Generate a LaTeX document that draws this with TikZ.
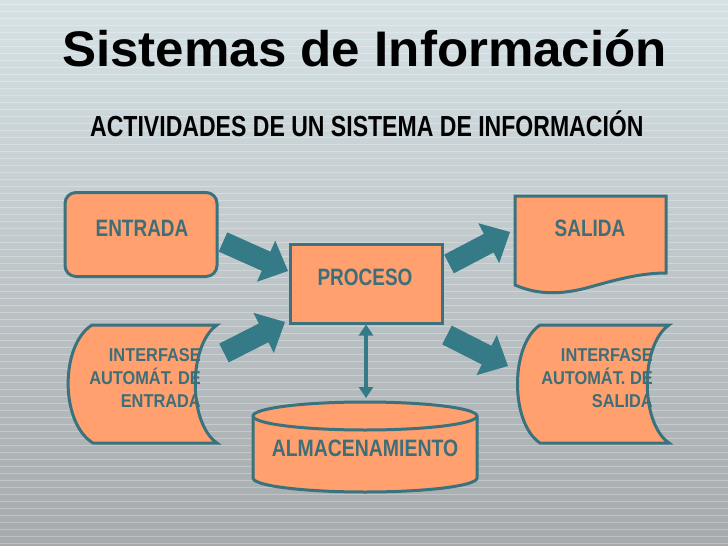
\documentclass[tikz,border=0pt]{standalone}
\usepackage{fontspec}
\setmainfont{Liberation Sans}
\usetikzlibrary{calc,arrows.meta}
\definecolor{boxfill}{RGB}{255,160,110}
\definecolor{boxline}{RGB}{58,115,125}
\definecolor{txt}{RGB}{62,110,120}
\definecolor{arr}{RGB}{52,122,135}
\definecolor{bgtop}{RGB}{214,226,230}
\definecolor{bgbot}{RGB}{166,170,172}
\newcommand\lblfont{\fontsize{23.7}{28}\selectfont\bfseries}
\newcommand\smfont{\fontsize{18.6}{22.5}\selectfont\bfseries}
\newcommand\barrow[2]{%
  \coordinate (bB) at ($(#2)!24pt!(#1)$);
  \fill[arr] ($(#1)!10.5pt!90:(#2)$) -- ($(bB)!10.5pt!90:(#2)$) -- ($(bB)!22.5pt!90:(#2)$)
    -- (#2) -- ($(bB)!22.5pt!-90:(#2)$) -- ($(bB)!10.5pt!-90:(#2)$) -- ($(#1)!10.5pt!-90:(#2)$) -- cycle;}
\begin{document}
\begin{tikzpicture}[x=1pt,y=-1pt,
  shp/.style={fill=boxfill,draw=boxline,line width=3pt},
  lbl/.style={inner sep=0pt,text=txt,font=\lblfont},
  sml/.style={inner sep=0pt,text=txt,font=\smfont,anchor=east}]
\useasboundingbox (0,0) rectangle (728,546);
\shade[top color=bgtop,bottom color=bgbot] (0,0) rectangle (728,546);
\foreach \y in {4,11,...,546} \draw[white,opacity=0.28,line width=1pt] (0,\y) -- (728,\y);

% titles
\node[anchor=base west,inner sep=0pt,font=\fontsize{50}{60}\selectfont\bfseries] (title) at (62,66) {\scalebox{1.022}[1]{Sistemas de Información}};
\node[anchor=base west,inner sep=0pt,font=\fontsize{29}{34}\selectfont\bfseries] (sub) at (90,136) {\scalebox{0.795}[1]{ACTIVIDADES DE UN SISTEMA DE INFORMACIÓN}};

% ENTRADA
\node[shp,rounded corners=11pt,minimum width=152pt,minimum height=84pt,inner sep=0pt] (ent) at (141,234.5) {};
\node[lbl] (entT) at (142,228) {\scalebox{0.8}[1]{ENTRADA}};

% PROCESO
\node[shp,minimum width=152pt,minimum height=79pt,inner sep=0pt] (proc) at (366,283.5) {};
\node[lbl] (procT) at (365,277) {\scalebox{0.8}[1]{PROCESO}};

% SALIDA (document)
\draw[shp] (515,196) -- (666,196) -- (666,273)
  .. controls (640,273) and (615,280) .. (590,287)
  .. controls (565,294) and (540,296) .. (515,285) -- cycle;
\node[lbl] (salT) at (590,228) {\scalebox{0.8}[1]{SALIDA}};

% INTERFASE entrada
\draw[shp] (92,325) -- (217,325) .. controls (188,345) and (188,423) .. (217,443)
  -- (93,443) .. controls (60,423) and (60,345) .. (92,325) -- cycle;
\node[sml] (ieT) at (201,380) {\scalebox{0.88}[1]{\begin{tabular}{@{}r@{}}INTERFASE\\AUTOMÁT. DE\\ENTRADA\end{tabular}}};

% INTERFASE salida
\draw[shp] (540,325) -- (669,325) .. controls (640,345) and (640,423) .. (669,443)
  -- (540,443) .. controls (510,423) and (510,345) .. (540,325) -- cycle;
\node[sml] (isT) at (653,380) {\scalebox{0.88}[1]{\begin{tabular}{@{}r@{}}INTERFASE\\AUTOMÁT. DE\\SALIDA\end{tabular}}};

% ALMACENAMIENTO (cylinder)
\draw[shp] (253,416) -- (253,478) arc[start angle=180,end angle=360,x radius=112pt,y radius=14pt]
  -- (477,416) arc[start angle=0,end angle=180,x radius=112pt,y radius=14pt] -- cycle;
\draw[boxline,line width=3pt] (253,416) arc[start angle=180,end angle=360,x radius=112pt,y radius=14pt];
\coordinate (almtop) at (366,402);
\node[lbl] (almT) at (365,448) {\scalebox{0.82}[1]{ALMACENAMIENTO}};

% double arrow
\draw[arr,line width=3.5pt,{Triangle[width=14pt,length=11pt]}-{Triangle[width=14pt,length=11pt]},shorten >=4pt]
  (proc.south) -- (almtop);

% block arrows
\coordinate (a1t) at (223,242); \coordinate (a1h) at (288,271);
\coordinate (a2t) at (224,353); \coordinate (a2h) at (285,322);
\coordinate (a3t) at (449,264); \coordinate (a3h) at (510,232);
\coordinate (a4t) at (447,335); \coordinate (a4h) at (508,366);
\barrow{a1t}{a1h}
\barrow{a2t}{a2h}
\barrow{a3t}{a3h}
\barrow{a4t}{a4h}
\end{tikzpicture}
\end{document}
